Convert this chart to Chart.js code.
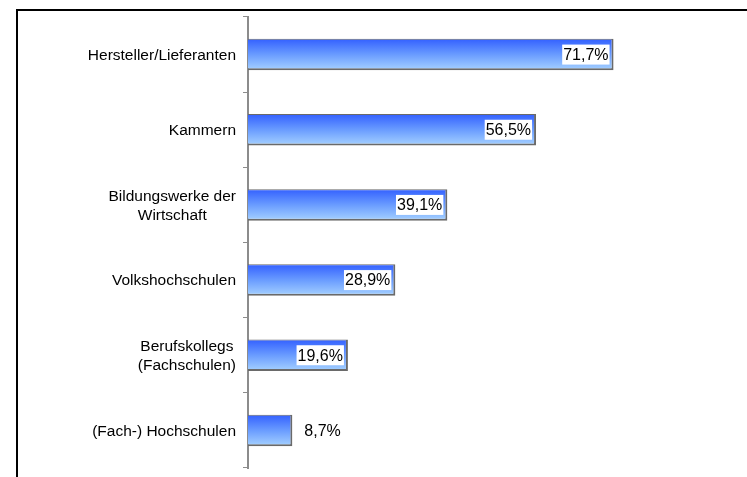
<!DOCTYPE html>
<html>
<head>
<meta charset="utf-8">
<script src="https://cdn.jsdelivr.net/npm/chart.js@4"></script>
<style>
html,body{margin:0;padding:0;background:#fff;overflow:hidden;}
#wrap{position:relative;width:747px;height:477px;}
</style>
</head>
<body>
<div id="wrap"><canvas id="c" width="747" height="477"></canvas></div>
<script>
const categories = [
  ["Hersteller/Lieferanten"],
  ["Kammern"],
  ["Bildungswerke der", "Wirtschaft"],
  ["Volkshochschulen"],
  ["Berufskollegs", "(Fachschulen)"],
  ["(Fach-) Hochschulen"]
];
const values = [71.7, 56.5, 39.1, 28.9, 19.6, 8.7];
const valueLabels = ["71,7%", "56,5%", "39,1%", "28,9%", "19,6%", "8,7%"];

const FONT = "Liberation Sans, Arial, sans-serif";
const BAR_PCT = 0.42;

const framePlugin = {
  id: 'frame',
  afterDraw(chart) {
    const ctx = chart.ctx;
    ctx.save();
    ctx.strokeStyle = '#000';
    ctx.lineWidth = 2;
    ctx.strokeRect(17, 10, 800, 600);
    ctx.restore();
  }
};

const catLabelPlugin = {
  id: 'catLabels',
  afterDraw(chart) {
    const ctx = chart.ctx;
    const y = chart.scales.y;
    ctx.save();
    ctx.font = "15.5px " + FONT;
    ctx.fillStyle = '#000';
    ctx.textBaseline = 'middle';
    const rightEdge = 236;
    const lh = 19;
    categories.forEach((lines, i) => {
      const cy = y.getPixelForValue(i);
      const widths = lines.map(l => ctx.measureText(l).width);
      const maxW = Math.max(...widths);
      const center = rightEdge - maxW / 2;
      ctx.textAlign = 'center';
      lines.forEach((l, k) => {
        const ly = cy + (k - (lines.length - 1) / 2) * lh + 1;
        ctx.fillText(l, center, ly);
      });
    });
    ctx.restore();
  }
};

const valueLabelPlugin = {
  id: 'valueLabels',
  afterDatasetsDraw(chart) {
    const ctx = chart.ctx;
    const meta = chart.getDatasetMeta(0);
    ctx.save();
    ctx.font = "16px " + FONT;
    ctx.textBaseline = 'middle';
    meta.data.forEach((bar, i) => {
      const txt = valueLabels[i];
      const w = ctx.measureText(txt).width;
      const barLen = bar.x - bar.base;
      if (barLen > w + 20) {
        const right = bar.x - 4;
        ctx.fillStyle = '#fff';
        ctx.fillRect(right - w - 2, bar.y - 10, w + 2, 20);
        ctx.fillStyle = '#000';
        ctx.textAlign = 'right';
        ctx.fillText(txt, right - 1, bar.y + 1);
      } else {
        ctx.fillStyle = '#000';
        ctx.textAlign = 'left';
        ctx.fillText(txt, bar.x + 12, bar.y + 1);
      }
    });
    ctx.restore();
  }
};

function barGradient(context) {
  const chart = context.chart;
  const ys = chart.scales && chart.scales.y;
  if (!chart.chartArea || !ys || context.dataIndex === undefined) return '#5b8cff';
  const cy = ys.getPixelForValue(context.dataIndex);
  const h = (chart.chartArea.bottom - chart.chartArea.top) / categories.length * BAR_PCT;
  const top = cy - h / 2, bottom = cy + h / 2;
  if (!isFinite(top) || !isFinite(bottom)) return '#5b8cff';
  const g = chart.ctx.createLinearGradient(0, top, 0, bottom);
  g.addColorStop(0, '#3360ff');
  g.addColorStop(0.5, '#6a9cff');
  g.addColorStop(1, '#a6d2ff');
  return g;
}

new Chart(document.getElementById('c'), {
  type: 'bar',
  data: {
    labels: categories,
    datasets: [{
      data: values,
      backgroundColor: barGradient,
      borderColor: '#6a6a6a',
      borderWidth: {top: 1, right: 2, bottom: 2, left: 0},
      borderSkipped: false,
      categoryPercentage: 1,
      barPercentage: BAR_PCT
    }]
  },
  options: {
    indexAxis: 'y',
    responsive: false,
    animation: false,
    layout: {padding: {top: 17, bottom: 9, left: 0, right: 7}},
    plugins: {legend: {display: false}, tooltip: {enabled: false}},
    scales: {
      x: {
        display: false,
        min: 0,
        max: 96.5
      },
      y: {
        afterFit(scale) { scale.width = 248; },
        grid: {
          offset: true,
          drawOnChartArea: false,
          drawTicks: true,
          tickLength: 5,
          color: '#8c8c8c',
          lineWidth: 1
        },
        border: {display: true, color: '#8c8c8c', width: 2},
        ticks: {display: false}
      }
    }
  },
  plugins: [framePlugin, catLabelPlugin, valueLabelPlugin]
});
</script>
</body>
</html>
